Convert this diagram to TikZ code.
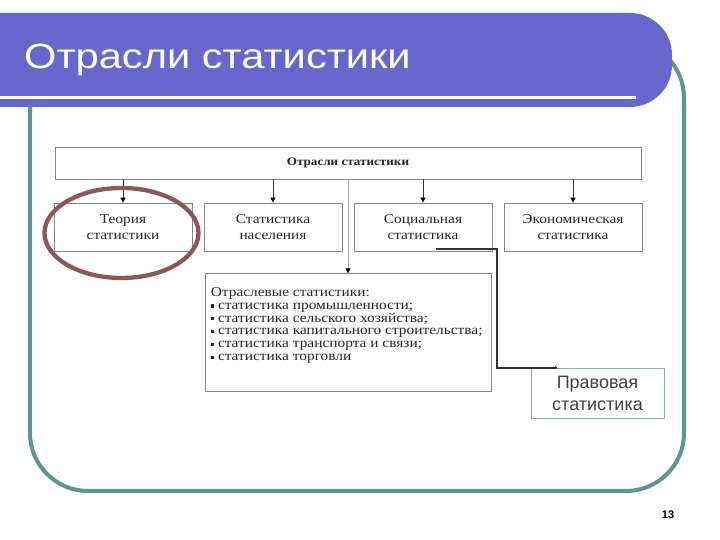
\documentclass[tikz,border=0pt]{standalone}
\usepackage{fontspec}
\setmainfont{Liberation Serif}
\newfontfamily\arialfont{Liberation Sans}
\newfontfamily\titlefont[FakeStretch=1.19]{Liberation Sans}
\newfontfamily\boxfont[FakeStretch=1.14]{Liberation Serif}
\usetikzlibrary{arrows.meta,calc,positioning}
\definecolor{bandblue}{RGB}{102,102,204}
\definecolor{frameteal}{RGB}{95,148,148}
\definecolor{ringbrown}{RGB}{140,86,90}
\definecolor{boxgray}{RGB}{135,135,135}
\definecolor{pravoline}{RGB}{130,175,175}
\newcommand\sqbullet{\rule[1.8pt]{3.2pt}{3.2pt}\hspace{4pt}}
\tikzset{
  box/.style={draw=boxgray, line width=0.8pt, fill=white, align=center,
    inner sep=0pt, text=black!85, font=\boxfont\fontsize{13.5}{16}\selectfont},
  topbox/.style={box, minimum width=586pt, minimum height=32pt,
    font=\boxfont\fontsize{11.5}{13}\selectfont\bfseries},
  leafbox/.style={box, minimum width=138pt, minimum height=48pt},
  listbox/.style={box, minimum width=286pt, minimum height=118pt},
  pravobox/.style={draw=pravoline, line width=0.7pt, fill=white,
    minimum width=133pt, minimum height=50pt, align=center,
    text=black!75, font=\arialfont\fontsize{18}{22}\selectfont},
  tip/.style={-{Triangle[length=5pt,width=5pt,color=black]}},
  ring/.style={draw=ringbrown, line width=4.3pt},
  link/.style={draw=black!80, line width=1.8pt}
}
\begin{document}
\begin{tikzpicture}[x=1pt, y=1pt,
  level distance=64pt, sibling distance=150pt,
  edge from parent/.style={draw=black!80, line width=0.8pt, tip},
  edge from parent path={(\tikzparentnode.south -| \tikzchildnode.north) -- (\tikzchildnode.north)}]
  \useasboundingbox (0,0) rectangle (720,540);
  \draw[frameteal, line width=4pt, rounded corners=58pt] (30,49) rectangle (684,500);
  \fill[bandblue] (-5,527) -- (630,527) arc[start angle=90, end angle=0, radius=42]
    -- (672,475) arc[start angle=0, end angle=-90, radius=42] -- (-5,433) -- cycle;
  \draw[white, line width=2.5pt] (-5,442.7) -- (636,442.7);
  \node[anchor=base west, inner sep=0pt, text=white,
    font=\titlefont\fontsize{35}{40}\selectfont] (title) at (24,471) {Отрасли статистики};

  \node[topbox] (branches) at (348,377) {Отрасли статистики}
    child {node[leafbox] (theory) {Теория\\статистики}}
    child {node[leafbox] (people) {Статистика\\населения}}
    child {node[leafbox] (social) {Социальная\\статистика}}
    child {node[leafbox] (econ) {Экономическая\\статистика}};

  \node[listbox, below=94pt of branches] (list) {};
  \node[anchor=north west, align=left, inner sep=0pt, text=black!85,
    font=\boxfont\fontsize{13.5}{12.8}\selectfont] (list-text) at ($(list.north west)+(6,-14)$)
    {Отраслевые статистики:\\
     \sqbullet статистика промышленности;\\
     \sqbullet статистика сельского хозяйства;\\
     \sqbullet статистика капитального строительства;\\
     \sqbullet статистика транспорта и связи;\\
     \sqbullet статистика торговли};
  \draw[gray!70, line width=1pt, tip] (branches.south) -- (list.north);

  \node[pravobox] (pravo) at (597.5,147) {Правовая\\статистика};
  \coordinate (soc-out) at ($(social.south)+(13,2)$);
  \coordinate (prav-in) at ($(pravo.north west)+(25,0)$);
  \draw[link] (soc-out) -- ++(61,0) |- (prav-in);
  \fill[black!80] (prav-in) circle (1.6pt);

  \draw[ring] ($(theory)+(-1.5,-6)$) ellipse [x radius=77, y radius=45];
  \node[font=\arialfont\bfseries\fontsize{11}{12}\selectfont] (pageno) at (668,25) {13};
\end{tikzpicture}
\end{document}
